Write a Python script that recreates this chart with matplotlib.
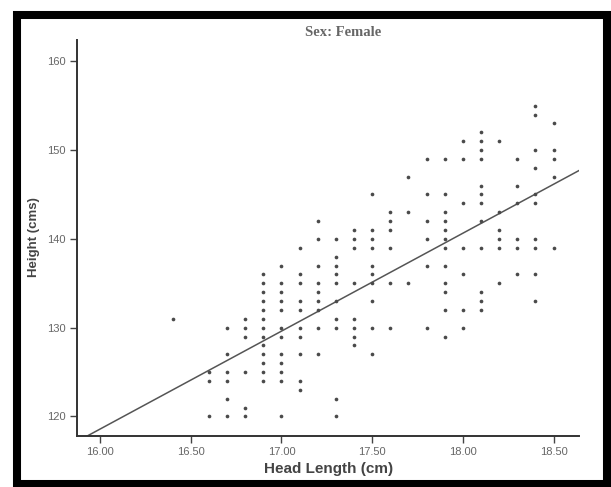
import matplotlib
matplotlib.use('Agg')
import matplotlib.pyplot as plt
from matplotlib.patches import Rectangle
import numpy as np

# head length columns (cm) and the heights (cms) plotted in each column
head_length_cols = [16.4, 16.6, 16.7, 16.8, 16.9, 17.0, 17.1, 17.2, 17.3, 17.4,
                    17.5, 17.6, 17.7, 17.8, 17.9, 18.0, 18.1, 18.2, 18.3, 18.4,
                    18.5]
heights_by_col = [
    [131],
    [125, 124, 120],
    [130, 127, 125, 124, 122, 120],
    [131, 130, 129, 125, 121, 120],
    [136, 135, 134, 133, 132, 131, 130, 129, 128, 127, 126, 125, 124],
    [137, 135, 134, 133, 132, 130, 129, 127, 126, 125, 124, 120],
    [139, 136, 135, 133, 132, 130, 129, 127, 124, 123],
    [142, 140, 137, 135, 134, 133, 132, 130, 127],
    [140, 138, 137, 136, 135, 133, 131, 130, 122, 120],
    [141, 140, 139, 135, 131, 130, 129, 128],
    [145, 141, 140, 139, 137, 136, 135, 133, 130, 127],
    [143, 142, 141, 139, 135, 130],
    [147, 143, 135],
    [149, 145, 142, 140, 137, 130],
    [149, 145, 143, 142, 141, 140, 139, 137, 135, 134, 132, 129],
    [151, 149, 144, 139, 136, 132, 130],
    [152, 151, 150, 149, 146, 145, 144, 142, 139, 134, 133, 132],
    [151, 143, 141, 140, 139, 135],
    [149, 146, 144, 140, 139, 136],
    [155, 154, 150, 148, 145, 144, 140, 139, 136, 133],
    [153, 150, 149, 147, 139],
]

# fit line
fit_slope = 11.03
fit_intercept = -57.9

x_ticks = [16.0, 16.5, 17.0, 17.5, 18.0, 18.5]
y_ticks = [120, 130, 140, 150, 160]

# flatten the columns into point lists
xs = [x for x, hs in zip(head_length_cols, heights_by_col) for _ in hs]
ys = [h for hs in heights_by_col for h in hs]

W, H = 611, 487
fig = plt.figure(figsize=(W / 100, H / 100), dpi=100)
fig.patch.set_facecolor('white')
ax = fig.add_axes([77 / W, 1 - 436 / H, 502 / W, 396 / H])

ax.scatter(xs, ys, s=7, color='#4a4a4a', linewidths=0, zorder=3)

xlim = (15.873, 18.64)
line_x = np.array(xlim)
ax.plot(line_x, fit_intercept + fit_slope * line_x, color='#555555', lw=1.1,
        zorder=2)

ax.set_xlim(xlim)
ax.set_ylim(117.8, 162.4)

for side in ['top', 'right']:
    ax.spines[side].set_visible(False)
for side in ['left', 'bottom']:
    ax.spines[side].set_color('#333333')
    ax.spines[side].set_linewidth(1.4)

ax.set_xticks(x_ticks)
ax.set_xticklabels(['{:.2f}'.format(t) for t in x_ticks])
ax.set_yticks(y_ticks)
ax.tick_params(direction='out', length=5, width=1, color='#444444',
               labelsize=8, labelcolor='#666666', pad=3)
for lab in ax.get_xticklabels() + ax.get_yticklabels():
    lab.set_family('Liberation Sans')

fig.text(329 / W, 1 - 469 / H, 'Head Length (cm)', ha='center', va='center',
         fontsize=11, fontweight='bold', color='#444444',
         family='Liberation Sans')
fig.text(34 / W, 1 - 237 / H, 'Height (cms)', ha='center', va='center',
         rotation=90, fontsize=9.5, fontweight='bold', color='#444444',
         family='Liberation Sans')

fig.text(343 / W, 1 - 32 / H, 'Sex: Female', ha='center', va='center',
         fontsize=10.5, fontweight='bold', color='#666666',
         family='Liberation Serif')

# scanned black frame around the chart
fig.patches.append(Rectangle((16.5 / W, 1 - 483.5 / H),
                             (606.5 - 16.5) / W, (483.5 - 15) / H,
                             transform=fig.transFigure, fill=False,
                             edgecolor='black', linewidth=5.8))

fig.savefig('out.png', dpi=100)
